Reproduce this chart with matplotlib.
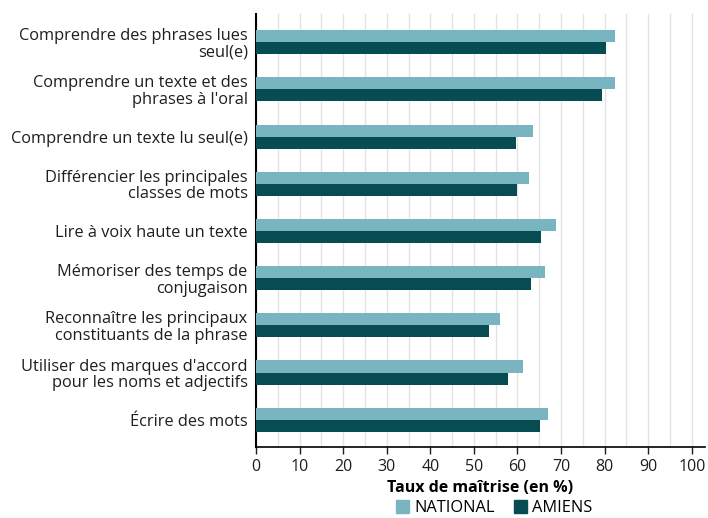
import matplotlib
matplotlib.use("Agg")
import matplotlib.pyplot as plt
from matplotlib.patches import Patch
from matplotlib.ticker import MultipleLocator

plt.rcParams['font.family'] = ['Open Sans', 'DejaVu Sans']

categories = [
    "Comprendre des phrases lues\nseul(e)",
    "Comprendre un texte et des\nphrases à l'oral",
    "Comprendre un texte lu seul(e)",
    "Différencier les principales\nclasses de mots",
    "Lire à voix haute un texte",
    "Mémoriser des temps de\nconjugaison",
    "Reconnaître les principaux\nconstituants de la phrase",
    "Utiliser des marques d'accord\npour les noms et adjectifs",
    "Écrire des mots",
]
national = [82.4, 82.4, 63.6, 62.7, 68.9, 66.3, 56.0, 61.3, 67.0]
amiens = [80.3, 79.4, 59.7, 59.9, 65.4, 63.1, 53.5, 57.8, 65.2]
series_names = ["NATIONAL", "AMIENS"]
colors = ["#79b5c0", "#074b53"]

fig = plt.figure(figsize=(7.08, 5.18), dpi=100)
ax = fig.add_axes([0.3616, 0.137, 0.634, 0.836])

h = 0.255
y = list(range(len(categories)))
ax.barh([i - h / 2 for i in y], national, height=h, color=colors[0], zorder=3)
ax.barh([i + h / 2 for i in y], amiens, height=h, color=colors[1], zorder=3)

ax.set_yticks(y)
ax.set_yticklabels(categories, fontsize=11.8, color="#1e1e1e", linespacing=1.05)
ax.tick_params(axis="y", length=0, pad=6)
ax.set_ylim(8.58, -0.6)

ax.set_xlim(0, 103)
ax.xaxis.set_major_locator(MultipleLocator(10))
ax.xaxis.set_minor_locator(MultipleLocator(5))
ax.tick_params(axis="x", which="major", length=5, width=1, labelsize=11.5, colors="#1e1e1e")
ax.tick_params(axis="x", which="minor", length=0)
ax.grid(axis="x", which="both", color="#e3e3e3", linewidth=1, zorder=0)
ax.set_axisbelow(True)

for s in ["top", "right"]:
    ax.spines[s].set_visible(False)
ax.spines["left"].set_linewidth(1.5)
ax.spines["bottom"].set_linewidth(1.2)

ax.set_xlabel("Taux de maîtrise (en %)", fontsize=11.5, fontweight="bold", labelpad=4)

handles = [Patch(color=c, label=n) for c, n in zip(colors, series_names)]
fig.legend(handles=handles, loc="lower center", bbox_to_anchor=(0.698, 0.0), ncol=2,
           frameon=False, fontsize=11.8, handlelength=0.8, handleheight=0.8,
           handletextpad=0.3, columnspacing=1.2, borderpad=0.1, borderaxespad=0)

fig.savefig("out.png", dpi=100)
